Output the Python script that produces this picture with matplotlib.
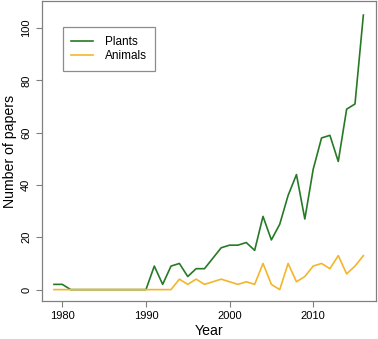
import numpy as np
import matplotlib
matplotlib.use('Agg')
import matplotlib.pyplot as plt

plt.rcParams['font.family'] = ['Liberation Sans', 'DejaVu Sans']

years = list(range(1979, 2017))
plants = [2, 2, 0, 0, 0, 0, 0, 0, 0, 0, 0, 0, 9, 2, 9, 10, 5, 8, 8, 12,
          16, 17, 17, 18, 15, 28, 19, 25, 36, 44, 27, 46, 58, 59, 49, 69, 71, 105]
animals = [0, 0, 0, 0, 0, 0, 0, 0, 0, 0, 0, 0, 0, 0, 0, 4, 2, 4, 2, 3,
           4, 3, 2, 3, 2, 10, 2, 0, 10, 3, 5, 9, 10, 8, 13, 6, 9, 13]
xticks = [1980, 1990, 2000, 2010]
yticks = [0, 20, 40, 60, 80, 100]

fig = plt.figure(figsize=(3.78, 3.39), dpi=100)
ax = fig.add_axes([0.110, 0.113, 0.884, 0.883])
ax.plot(years, plants, color='#267a26', lw=1.2, label='Plants')
ax.plot(years, animals, color='#f5b52a', lw=1.2, label='Animals')

ax.set_xlim(1977.52, 2017.48)
ax.set_ylim(-4.24, 110.24)
ax.set_xticks(xticks)
ax.set_yticks(yticks)
for s in ax.spines.values():
    s.set_color('#808080')
    s.set_linewidth(0.9)
ax.tick_params(colors='#808080', labelcolor='black', labelsize=8, length=4.5, width=0.8, pad=3)
plt.setp(ax.get_yticklabels(), rotation=90, va='center')
ax.set_xlabel('Year', fontsize=10.2, labelpad=2)
ax.set_ylabel('Number of papers', fontsize=10.2, labelpad=3)

leg = ax.legend(loc='upper left', bbox_to_anchor=(0.063, 0.914), borderaxespad=0,
                fontsize=8.5, frameon=True, fancybox=False, handlelength=1.8,
                handletextpad=1.0, borderpad=0.75, labelspacing=0.2)
leg.get_frame().set_edgecolor('#707070')
leg.get_frame().set_linewidth(0.9)

fig.savefig('out.png', dpi=100)
